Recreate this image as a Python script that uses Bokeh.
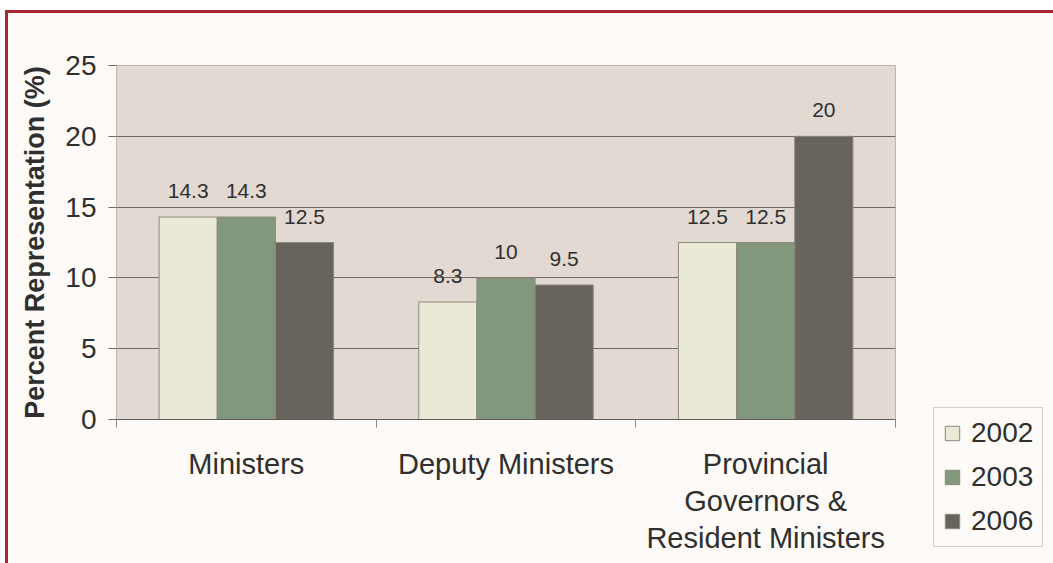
from bokeh.plotting import figure
from bokeh.models import Range1d, FixedTicker, ColumnDataSource, Legend, LegendItem
from bokeh.layouts import row
from bokeh.core.properties import value
from bokeh.embed import file_html
from bokeh.resources import INLINE

categories = ["Ministers", "Deputy Ministers", "Provincial\nGovernors &\nResident Ministers"]
years = ["2002", "2003", "2006"]
v2002 = [14.3, 8.3, 12.5]
v2003 = [14.3, 10, 12.5]
v2006 = [12.5, 9.5, 20]
y_ticks = [0, 5, 10, 15, 20, 25]

colors = ["#e9e9d6", "#82977c", "#67645d"]
FONT = "Liberation Sans"
TXT = "#2f2f2f"
BG = "#fdfaf7"
EDGE = "#8e887f"

p = figure(width=888, height=550, x_range=Range1d(0, 3), y_range=Range1d(0, 25),
           output_backend="svg", toolbar_location=None,
           min_border_left=108, min_border_right=1, min_border_top=52, min_border_bottom=144)
p.background_fill_color = "#e3d9d3"
p.border_fill_color = BG
p.outline_line_color = "#bcb4ae"
p.frame_align = False

series = [v2002, v2003, v2006]
offsets = [-0.224, 0.0, 0.224]
bw = 0.224
for yr, vals, off, col in zip(years, series, offsets, colors):
    xs = [i + 0.5 + off for i in range(len(categories))]
    src = ColumnDataSource(dict(x=xs, top=vals, label=[f"{v:g}" for v in vals]))
    p.vbar(x="x", top="top", width=bw, source=src, fill_color=col,
           line_color=EDGE, line_width=1)
    p.text(x="x", y="top", text="label", source=src, text_align="center",
           text_baseline="alphabetic", y_offset=-26, text_font=value(FONT),
           text_font_size="21px", text_color=TXT)

# x axis
xa = p.xaxis[0]
xa.ticker = FixedTicker(ticks=[0.5, 1.5, 2.5], minor_ticks=[0, 1, 2, 3])
xa.major_label_overrides = {0.5: categories[0], 1.5: categories[1], 2.5: categories[2]}
xa.major_tick_out = 0
xa.major_tick_in = 0
xa.minor_tick_out = 8
xa.minor_tick_in = 0
xa.minor_tick_line_color = "#8a8580"
xa.axis_line_color = "#5f5a55"
xa.major_label_text_font = FONT
xa.major_label_text_font_size = "29px"
xa.major_label_text_color = TXT
xa.major_label_standoff = 20
xa.major_label_text_line_height = 1.16

# y axis
ya = p.yaxis[0]
ya.ticker = FixedTicker(ticks=y_ticks, minor_ticks=[])
ya.major_tick_out = 8
ya.major_tick_in = 0
ya.major_tick_line_color = "#6e6964"
ya.axis_line_color = "#bcb4ae"
ya.major_label_text_font = FONT
ya.major_label_text_font_size = "28px"
ya.major_label_text_color = TXT
ya.major_label_standoff = 12
ya.axis_label = "Percent Representation (%)"
ya.axis_label_text_font = FONT
ya.axis_label_text_font_size = "27px"
ya.axis_label_text_font_style = "bold"
ya.axis_label_text_color = TXT
ya.axis_label_standoff = 12

p.xgrid.grid_line_color = None
p.ygrid.ticker = FixedTicker(ticks=y_ticks, minor_ticks=[])
p.ygrid.grid_line_color = "#6e6964"

# legend panel (swatch renderers sit outside its visible range)
p2 = figure(width=157, height=550, x_range=Range1d(0, 1), y_range=Range1d(0, 1),
            output_backend="svg", toolbar_location=None,
            x_axis_location=None, y_axis_location=None, min_border=0)
p2.background_fill_color = BG
p2.border_fill_color = BG
p2.outline_line_color = None
p2.grid.grid_line_color = None
p2.frame_align = False
items = []
for yr, col in zip(years, colors):
    r = p2.vbar(x=[5], top=[0.5], width=0.1, fill_color=col, line_color=EDGE, line_width=1)
    items.append(LegendItem(label=yr, renderers=[r]))
legend = Legend(items=items, location=(37, 16), orientation="vertical",
                label_text_font=FONT, label_text_font_size="28px", label_text_color=TXT,
                glyph_width=18, glyph_height=18, label_height=30, label_standoff=10,
                spacing=12, padding=9, margin=0,
                border_line_color="#aaa5a0", border_line_width=1,
                background_fill_color=BG, background_fill_alpha=1)
p2.add_layout(legend, "center")

layout = row(p, p2, spacing=0)
layout.margin = (10, 0, 0, 5)
layout.styles = {"border-top": "3px solid #a5282e", "border-left": "3px solid #a5282e",
                 "background-color": BG}

open("out.html", "w").write(file_html(layout, INLINE))
